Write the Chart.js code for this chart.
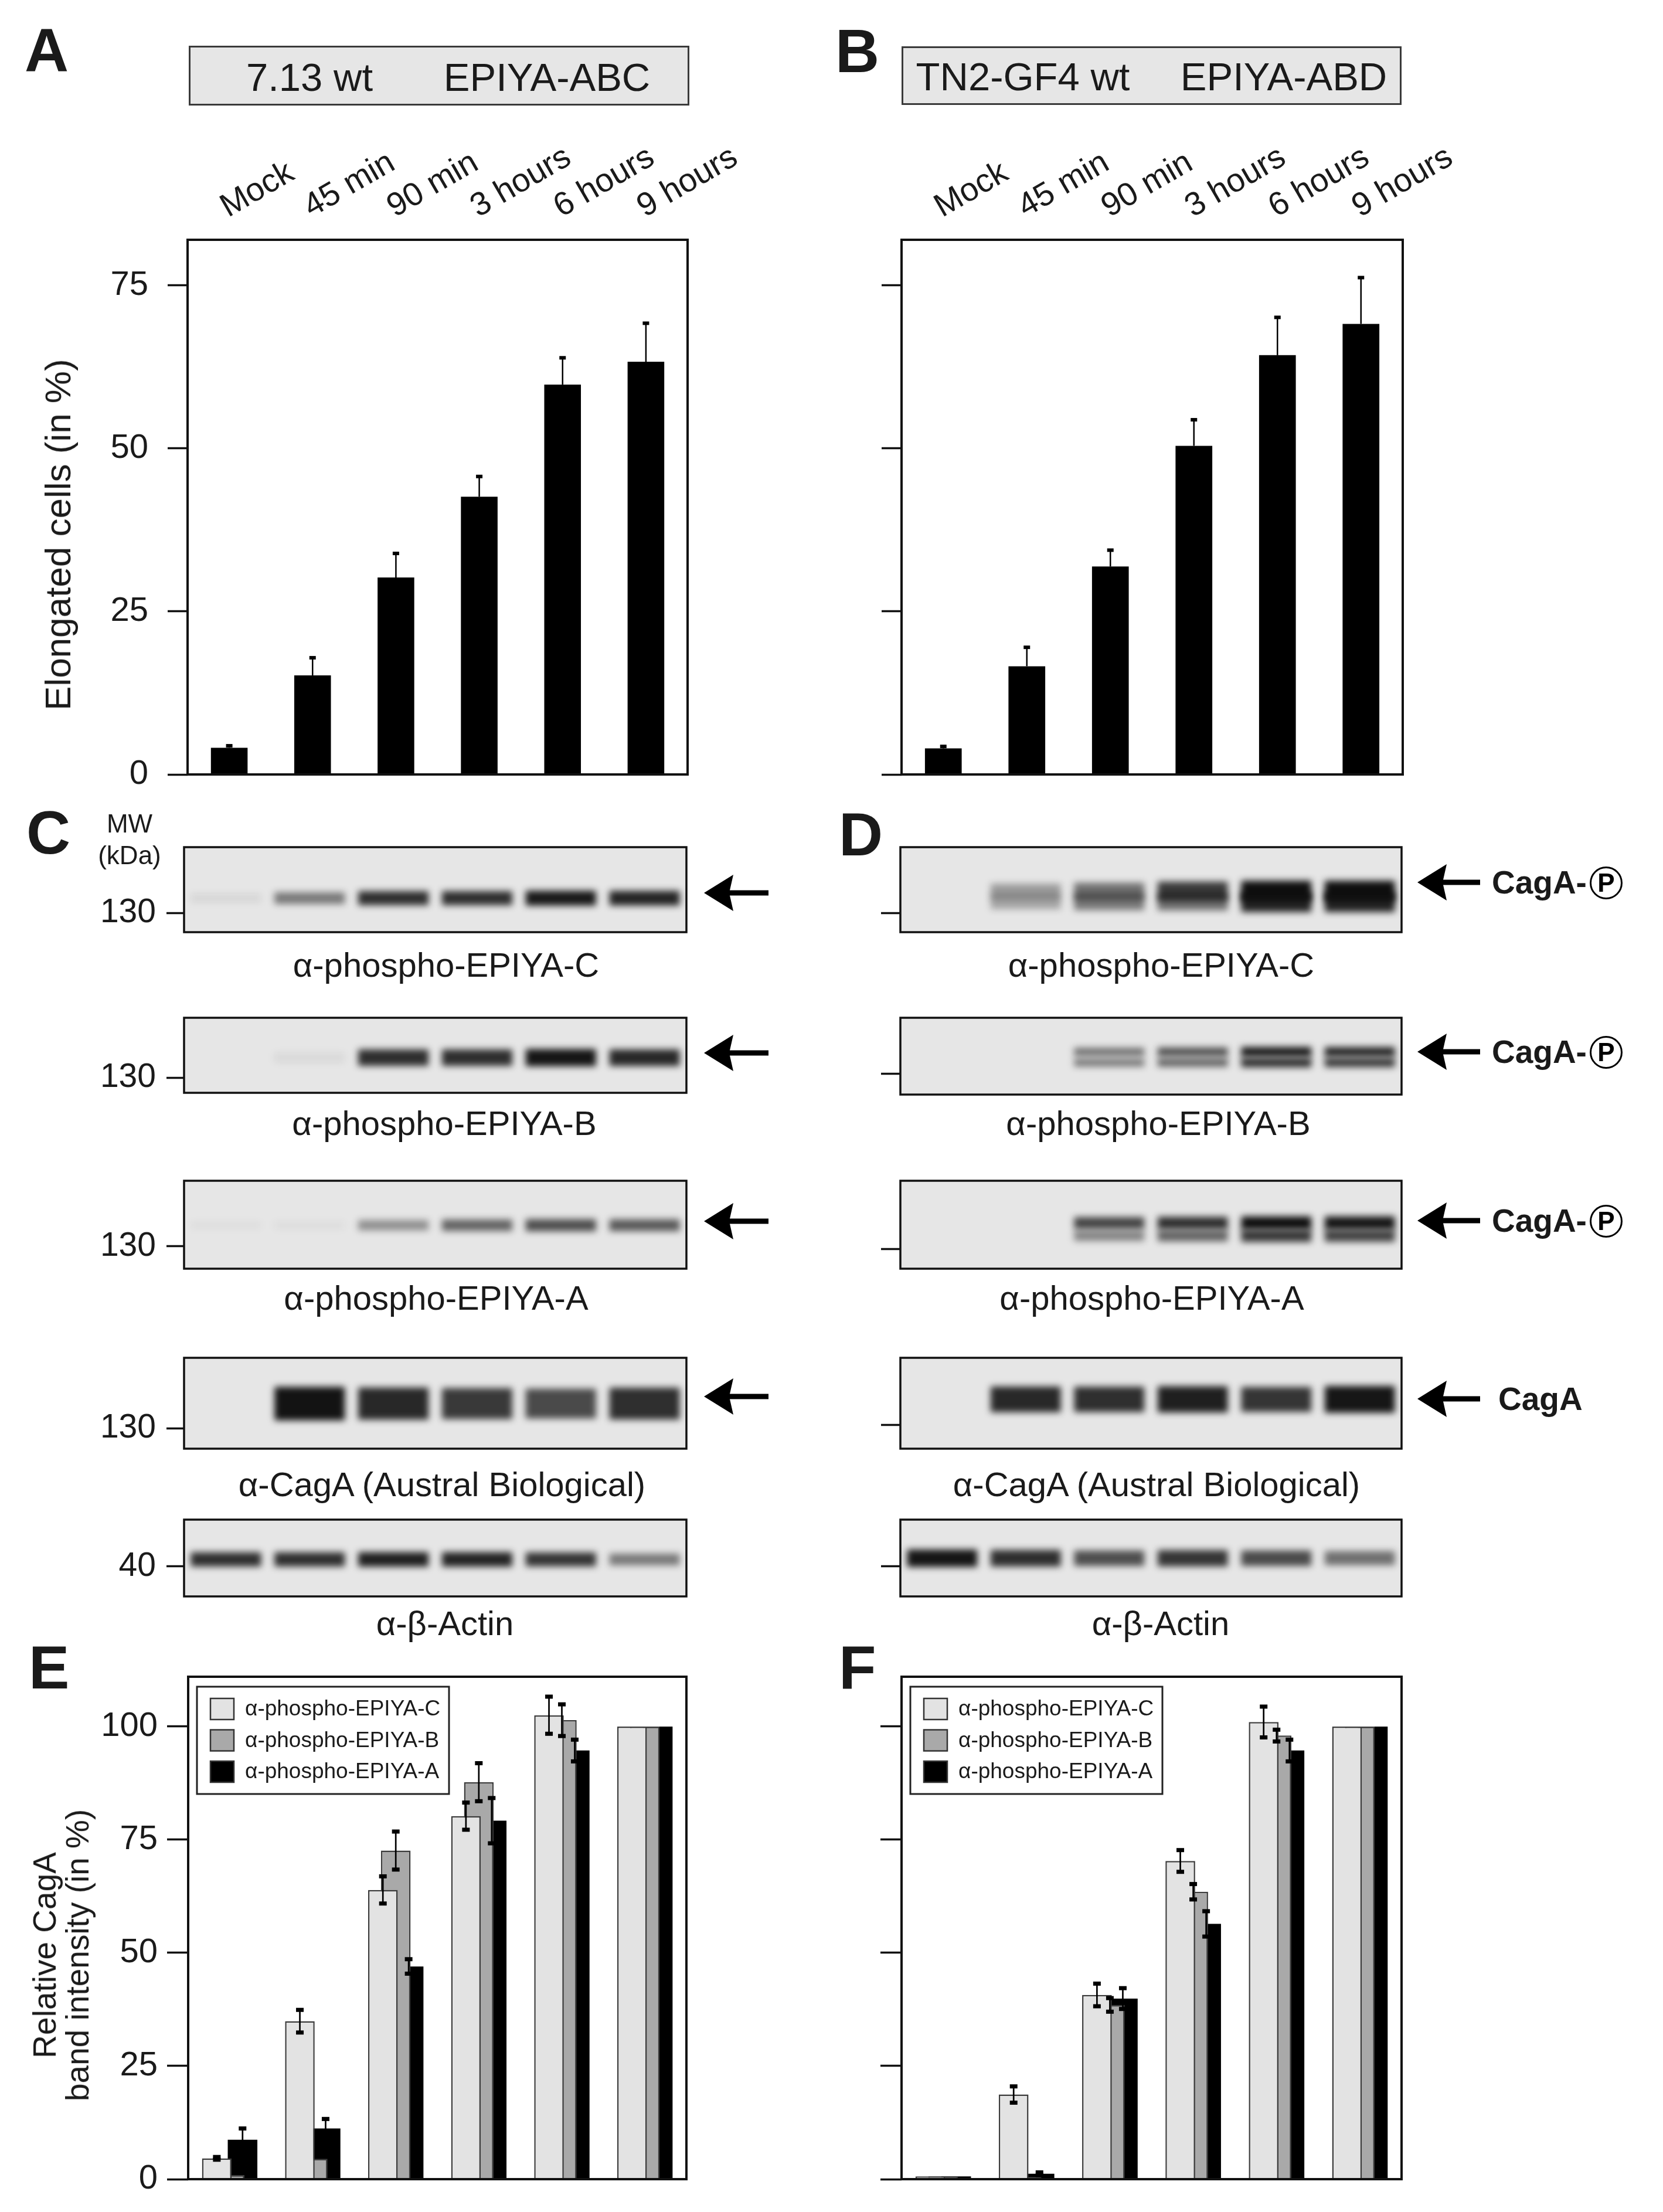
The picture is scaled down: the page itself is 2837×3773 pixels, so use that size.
<!DOCTYPE html>
<html>
<head>
<meta charset="utf-8">
<script src="https://cdn.jsdelivr.net/npm/chart.js@4.4.1/dist/chart.umd.min.js"></script>
<style>
html, body { margin: 0; padding: 0; background: #fff; }
#page { position: relative; width: 2837px; height: 3773px; overflow: hidden; background: #fff;
        font-family: 'Liberation Sans', Arial, Helvetica, sans-serif; color: #1a1a1a; }
canvas { position: absolute; }
.t { position: absolute; white-space: nowrap; }
.titlebox { position: absolute; background: #e6e6e6; border: 3px solid #3a3a3a; box-sizing: border-box; }
</style>
</head>
<body>
<div id="page"></div>
<script>
// ---- data ----
const timePoints = ['Mock', '45 min', '90 min', '3 hours', '6 hours', '9 hours'];

// A / B: elongated cells (in %), mean and upper error
const elong713 = [4.1, 15.2, 30.2, 42.6, 59.8, 63.3];
const elong713Err = [0.3, 2.7, 3.7, 3.1, 4.1, 5.9];
const elongTN2 = [4.0, 16.6, 31.9, 50.4, 64.3, 69.1];
const elongTN2Err = [0.3, 2.9, 2.5, 4.0, 5.8, 7.1];

// E / F: relative CagA band intensity (in %)
const seriesNames = ['α-phospho-EPIYA-C', 'α-phospho-EPIYA-B', 'α-phospho-EPIYA-A'];
const relE_C = [4.6, 34.9, 63.9, 80.2, 102.5, 100];
const relE_CErr = [0.3, 2.5, 3.0, 3.0, 4.1, 0];
const relE_B = [0.9, 4.5, 72.6, 87.7, 101.4, 100];
const relE_BErr = [0, 0, 4.2, 4.2, 3.5, 0];
const relE_A = [8.7, 11.2, 47.0, 79.2, 94.7, 100];
const relE_AErr = [2.5, 2.1, 1.6, 5.0, 2.4, 0];
const relF_C = [0.6, 18.7, 40.7, 70.3, 101.0, 100];
const relF_CErr = [0, 1.8, 2.5, 2.4, 3.4, 0];
const relF_B = [0.6, 0.5, 38.5, 63.5, 98.0, 100];
const relF_BErr = [0, 0, 1.5, 1.7, 1.3, 0];
const relF_A = [0.6, 1.2, 39.9, 56.4, 94.7, 100];
const relF_AErr = [0, 0.3, 2.3, 2.8, 2.4, 0];

// C / D: western blot band darkness per lane (0 = none, 1 = saturated)
const mwCagA = 140, mwCagALower = 135, mwActin = 42;
const blotC_pC = [0.07, 0.5, 0.85, 0.85, 0.95, 0.9];
const blotC_pB = [0, 0.06, 0.85, 0.85, 0.97, 0.88];
const blotC_pA = [0.03, 0.04, 0.4, 0.6, 0.7, 0.65];
const blotC_cagA = [0, 0.98, 0.88, 0.8, 0.72, 0.85];
const blotC_actin = [0.85, 0.85, 0.92, 0.9, 0.82, 0.5];
const blotD_pC = [0, 0.35, 0.55, 0.8, 1, 1];
const blotD_pCLow = [0, 0.3, 0.5, 0.55, 0.9, 0.9];
const blotD_pB = [0, 0, 0.55, 0.7, 0.95, 0.9];
const blotD_pBLow = [0, 0, 0.5, 0.6, 0.85, 0.8];
const blotD_pA = [0, 0, 0.75, 0.85, 1, 0.97];
const blotD_pALow = [0, 0, 0.45, 0.6, 0.8, 0.75];
const blotD_cagA = [0, 0.88, 0.85, 0.92, 0.82, 0.97];
const blotD_actin = [0.97, 0.85, 0.7, 0.82, 0.72, 0.55];

// ---- helpers ----
const FONT = "'Liberation Sans', Arial, Helvetica, sans-serif";
Chart.defaults.font.family = FONT;
Chart.defaults.color = '#1a1a1a';
Chart.defaults.animation = false;
Chart.defaults.responsive = false;
Chart.defaults.plugins.legend.display = false;
Chart.defaults.plugins.tooltip.enabled = false;

const page = document.getElementById('page');

function addCanvas(left, top, w, h) {
  const c = document.createElement('canvas');
  c.width = w; c.height = h;
  c.style.left = left + 'px'; c.style.top = top + 'px';
  c.style.width = w + 'px'; c.style.height = h + 'px';
  page.appendChild(c);
  return c;
}

// text placed by its baseline (line-height = font size)
function txt(s, x, baseline, size, opts = {}) {
  const d = document.createElement('div');
  d.className = 't';
  d.textContent = s;
  d.style.fontSize = size + 'px';
  d.style.lineHeight = size + 'px';
  d.style.top = (baseline - 0.8465 * size) + 'px';
  d.style.left = x + 'px';
  if (opts.center) d.style.transform = 'translateX(-50%)';
  if (opts.bold) d.style.fontWeight = 'bold';
  page.appendChild(d);
  return d;
}

function vtitle(lines, cx, cy, size, lh) {
  const d = document.createElement('div');
  d.className = 't';
  d.innerHTML = lines.join('<br>');
  d.style.fontSize = size + 'px';
  d.style.lineHeight = lh + 'px';
  d.style.textAlign = 'center';
  d.style.left = cx + 'px';
  d.style.top = cy + 'px';
  d.style.transform = 'translate(-50%, -50%) rotate(-90deg)';
  page.appendChild(d);
}

function arrow(tipX, y, len) {
  const ns = 'http://www.w3.org/2000/svg';
  const s = document.createElementNS(ns, 'svg');
  s.setAttribute('width', len); s.setAttribute('height', 70);
  s.style.position = 'absolute';
  s.style.left = tipX + 'px'; s.style.top = (y - 35) + 'px';
  s.innerHTML = '<polygon points="0,35 50,4 43,35 50,66" fill="#000"/>' +
    '<rect x="42" y="30.5" width="' + (len - 42) + '" height="9" fill="#000"/>';
  page.appendChild(s);
}

function phosphoLabel(x, y, text, circled) {
  txt(text, x, y + 20, 55, { bold: true });
  if (circled) {
    const c = document.createElement('div');
    c.textContent = 'P';
    c.style.cssText = 'position:absolute;box-sizing:border-box;width:56px;height:56px;border:3px solid #000;' +
      'border-radius:50%;text-align:center;font-weight:bold;font-size:44px;line-height:50px;color:#000;';
    c.style.left = (x + 167) + 'px';
    c.style.top = (y - 27) + 'px';
    page.appendChild(c);
  }
}

// ---- plugins ----
const framePlugin = {
  id: 'frame',
  beforeDraw(chart, args, opts) {
    if (!opts.fill) return;
    const a = chart.chartArea, ctx = chart.ctx;
    ctx.save(); ctx.fillStyle = opts.fill;
    ctx.fillRect(a.left, a.top, a.right - a.left, a.bottom - a.top);
    ctx.restore();
  },
  afterDraw(chart, args, opts) {
    const a = chart.chartArea, ctx = chart.ctx;
    ctx.save();
    ctx.strokeStyle = '#111';
    ctx.lineWidth = opts.width || 4;
    ctx.strokeRect(a.left, a.top, a.right - a.left, a.bottom - a.top);
    ctx.restore();
  }
};

const blurPlugin = {
  id: 'blur',
  beforeDatasetsDraw(chart, args, opts) { chart.ctx.save(); chart.ctx.filter = 'blur(' + (opts.px || 4) + 'px)'; },
  afterDatasetsDraw(chart) { chart.ctx.restore(); }
};

const errorBarPlugin = {
  id: 'errorBars',
  afterDatasetsDraw(chart, args, opts) {
    const ctx = chart.ctx, y = chart.scales.y;
    chart.data.datasets.forEach((ds, di) => {
      if (!ds.errors) return;
      chart.getDatasetMeta(di).data.forEach((bar, i) => {
        const e = ds.errors[i];
        if (!e) return;
        const v = ds.data[i];
        const top = y.getPixelForValue(v + e);
        const bot = opts.both ? y.getPixelForValue(v - e) : bar.y;
        ctx.save();
        ctx.strokeStyle = '#000'; ctx.fillStyle = '#000'; ctx.lineWidth = opts.lineWidth;
        ctx.beginPath(); ctx.moveTo(bar.x, bot); ctx.lineTo(bar.x, top); ctx.stroke();
        ctx.fillRect(bar.x - opts.capW / 2, top - opts.capH / 2, opts.capW, opts.capH);
        if (opts.both) ctx.fillRect(bar.x - opts.capW / 2, bot - opts.capH / 2, opts.capW, opts.capH);
        ctx.restore();
      });
    });
  }
};

const boxLegendPlugin = {
  id: 'boxLegend',
  afterDraw(chart, args, o) {
    const a = chart.chartArea, ctx = chart.ctx;
    const x0 = a.left + o.dx, y0 = a.top + o.dy;
    ctx.save();
    ctx.fillStyle = '#fff';
    ctx.fillRect(x0, y0, o.w, o.h);
    ctx.lineWidth = 3; ctx.strokeStyle = '#222';
    ctx.strokeRect(x0, y0, o.w, o.h);
    ctx.font = o.size + 'px ' + FONT;
    ctx.textBaseline = 'middle';
    chart.data.datasets.forEach((ds, i) => {
      const cy = y0 + o.first + i * o.row;
      ctx.fillStyle = ds.backgroundColor;
      ctx.fillRect(x0 + o.sx, cy - o.sh / 2, o.sw, o.sh);
      ctx.lineWidth = 2.5; ctx.strokeStyle = '#333';
      ctx.strokeRect(x0 + o.sx, cy - o.sh / 2, o.sw, o.sh);
      ctx.fillStyle = '#1a1a1a';
      ctx.fillText(ds.label, x0 + o.tx, cy + 1);
    });
    ctx.restore();
  }
};

// ---- A / B: elongation bar charts ----
function elongationChart(box, values, errs, showLabels) {
  const cv = addCanvas(box.cl, box.ct, box.cw, box.ch);
  new Chart(cv, {
    type: 'bar',
    data: {
      labels: timePoints,
      datasets: [{ data: values, errors: errs, backgroundColor: '#000', borderWidth: 0,
                   barPercentage: 0.44, categoryPercentage: 1 }]
    },
    options: {
      layout: { padding: { left: 0, top: 0, right: box.cl + box.cw - box.right, bottom: box.ct + box.ch - box.bottom } },
      plugins: {
        frame: { width: 4 },
        errorBars: { both: false, lineWidth: 2.5, capW: 11, capH: 6 }
      },
      scales: {
        x: {
          position: 'top',
          grid: { display: false, drawTicks: false },
          border: { display: false },
          ticks: { autoSkip: false, minRotation: 30, maxRotation: 30, padding: 22, labelOffset: 24,
                   font: { size: 56 }, color: '#1a1a1a' },
          afterFit: s => { s.height = box.top - box.ct; s.paddingLeft = 0; s.paddingRight = 0; }
        },
        y: {
          min: 0, max: 82,
          border: { display: false },
          grid: { drawOnChartArea: false, tickLength: 34, tickWidth: 3.5, color: '#111' },
          ticks: { stepSize: 25, includeBounds: false, display: showLabels, padding: 33,
                   font: { size: 58 }, color: '#1a1a1a' },
          afterFit: s => { s.width = box.left - box.cl; s.paddingTop = 0; s.paddingBottom = 0; }
        }
      }
    },
    plugins: [framePlugin, errorBarPlugin]
  });
}

// ---- E / F: grouped (overlapping) intensity bars ----
function intensityChart(box, c, cErr, b, bErr, a, aErr, showLabels) {
  const cv = addCanvas(box.cl, box.ct, box.cw, box.ch);
  const common = { barPercentage: 2.3, categoryPercentage: 0.465, borderColor: '#3c3c3c', borderSkipped: 'start' };
  new Chart(cv, {
    type: 'bar',
    data: {
      labels: timePoints,
      datasets: [
        Object.assign({ label: seriesNames[0], data: c, errors: cErr, backgroundColor: '#e3e3e3', borderWidth: 2.5 }, common),
        Object.assign({ label: seriesNames[1], data: b, errors: bErr, backgroundColor: '#a9a9a9', borderWidth: 2.5 }, common),
        Object.assign({ label: seriesNames[2], data: a, errors: aErr, backgroundColor: '#000000', borderWidth: 0 }, common)
      ]
    },
    options: {
      layout: { padding: { left: 0, top: box.top - box.ct, right: box.cl + box.cw - box.right, bottom: box.ct + box.ch - box.bottom } },
      plugins: {
        frame: { width: 4 },
        errorBars: { both: true, lineWidth: 2.7, capW: 13, capH: 7 },
        boxLegend: { dx: 15, dy: 17, w: 430, h: 183, sx: 23, sw: 40, sh: 36, tx: 82, first: 38, row: 53.5, size: 37 }
      },
      scales: {
        x: { display: false },
        y: {
          min: 0, max: 111,
          border: { display: false },
          grid: { drawOnChartArea: false, tickLength: 36, tickWidth: 3.5, color: '#111' },
          ticks: { stepSize: 25, includeBounds: false, display: showLabels, padding: 16,
                   font: { size: 58 }, color: '#1a1a1a' },
          afterFit: s => { s.width = box.left - box.cl; s.paddingTop = 0; s.paddingBottom = 0; }
        }
      }
    },
    plugins: [framePlugin, errorBarPlugin, boxLegendPlugin]
  });
}

// ---- C / D: blot strips ----
function blotChart(g, bands, showLabel) {
  const cv = addCanvas(g.cl, g.top - 30, g.cw, g.bottom - g.top + 60);
  new Chart(cv, {
    type: 'bar',
    data: {
      labels: timePoints,
      datasets: bands.map(b => ({
        data: b.lanes.map(v => { const h = b.span * (0.55 + 0.45 * v) / 2; return [b.mw - h, b.mw + h]; }),
        backgroundColor: b.lanes.map(v => 'rgba(14,14,14,' + v + ')'),
        borderWidth: 0, barPercentage: 0.84, categoryPercentage: 1, grouped: false
      }))
    },
    options: {
      layout: { padding: { left: 0, top: 30, right: g.cl + g.cw - g.right, bottom: 30 } },
      plugins: { frame: { width: 3.5, fill: '#e6e6e6' }, blur: { px: 6 } },
      scales: {
        x: { display: false },
        y: {
          min: g.yMin, max: g.yMax,
          border: { display: false },
          grid: { drawOnChartArea: false, tickLength: g.tl, tickWidth: 3.5, color: '#111' },
          afterBuildTicks: s => { s.ticks = [{ value: g.tick }]; },
          ticks: { display: showLabel, padding: 18, font: { size: 57 }, color: '#1a1a1a', callback: v => String(v) },
          afterFit: s => { s.width = g.left - g.cl; s.paddingTop = 0; s.paddingBottom = 0; }
        }
      }
    },
    plugins: [framePlugin, blurPlugin]
  });
}

// ---- layout ----
elongationChart({ cl: 0, ct: 200, cw: 1300, ch: 1200, left: 320, right: 1173, top: 409, bottom: 1321 },
                elong713, elong713Err, true);
elongationChart({ cl: 1400, ct: 200, cw: 1300, ch: 1200, left: 1538, right: 2393, top: 409, bottom: 1321 },
                elongTN2, elongTN2Err, false);

intensityChart({ cl: 0, ct: 2820, cw: 1300, ch: 953, left: 321, right: 1171, top: 2860, bottom: 3717 },
               relE_C, relE_CErr, relE_B, relE_BErr, relE_A, relE_AErr, true);
intensityChart({ cl: 1400, ct: 2820, cw: 1300, ch: 953, left: 1538, right: 2391, top: 2860, bottom: 3717 },
               relF_C, relF_CErr, relF_B, relF_BErr, relF_A, relF_AErr, false);

const cL = { cl: 0, cw: 1300, left: 314, right: 1171, tl: 30 };
const dL = { cl: 1400, cw: 1100, left: 1536, right: 2391, tl: 33 };
const band = (lanes, mw, span) => ({ lanes, mw, span });

blotChart(Object.assign({ top: 1445, bottom: 1590, yMin: 116.8, yMax: 174.8, tick: 130 }, cL), [band(blotC_pC, mwCagA, 10.4)], true);
blotChart(Object.assign({ top: 1736, bottom: 1864, yMin: 122.4, yMax: 160.0, tick: 130 }, cL), [band(blotC_pB, mwCagA, 8.8)], true);
blotChart(Object.assign({ top: 2014, bottom: 2164, yMin: 119.4, yMax: 161.1, tick: 130 }, cL), [band(blotC_pA, mwCagA, 6.7)], true);
blotChart(Object.assign({ top: 2316, bottom: 2471, yMin: 121.7, yMax: 158.6, tick: 130 }, cL), [band(blotC_cagA, mwCagA, 13.8)], true);
blotChart(Object.assign({ top: 2592, bottom: 2723, yMin: 31.5, yMax: 53.3, tick: 40 }, cL), [band(blotC_actin, mwActin, 4.3)], true);

blotChart(Object.assign({ top: 1445, bottom: 1590, yMin: 121.1, yMax: 160.3, tick: 130 }, dL),
          [band(blotD_pC, mwCagA, 9.7), band(blotD_pCLow, mwCagALower, 9.7)], false);
blotChart(Object.assign({ top: 1736, bottom: 1867, yMin: 120.3, yMax: 155.7, tick: 130 }, dL),
          [band(blotD_pB, mwCagA, 4.6), band(blotD_pBLow, mwCagALower, 4.6)], false);
blotChart(Object.assign({ top: 2014, bottom: 2164, yMin: 122.3, yMax: 156.4, tick: 130 }, dL),
          [band(blotD_pA, mwCagA, 5.2), band(blotD_pALow, mwCagALower, 5.2)], false);
blotChart(Object.assign({ top: 2316, bottom: 2471, yMin: 120.9, yMax: 156.1, tick: 130 }, dL), [band(blotD_cagA, mwCagA, 10.5)], false);
blotChart(Object.assign({ top: 2592, bottom: 2723, yMin: 32.7, yMax: 51.4, tick: 40 }, dL), [band(blotD_actin, mwActin, 4.3)], false);

// ---- text, boxes, arrows ----
[['A', 42, 121], ['B', 1425, 123], ['C', 45, 1456], ['D', 1431, 1459], ['E', 49, 2880], ['F', 1431, 2880]]
  .forEach(([s, x, b]) => txt(s, x, b, 104, { bold: true }));

function titleBox(x, y, w, h) {
  const d = document.createElement('div');
  d.className = 'titlebox';
  d.style.left = x + 'px'; d.style.top = y + 'px';
  d.style.width = w + 'px'; d.style.height = h + 'px';
  page.appendChild(d);
}
titleBox(322, 78, 854, 102);
txt('7.13 wt', 528, 155, 67, { center: true });
txt('EPIYA-ABC', 933, 155, 67, { center: true });
titleBox(1538, 79, 853, 100);
txt('TN2-GF4 wt', 1745, 154, 67, { center: true });
txt('EPIYA-ABD', 2190, 154, 67, { center: true });

vtitle(['Elongated cells (in %)'], 99, 912, 62, 70);
vtitle(['Relative CagA', 'band intensity (in %)'], 104, 3335, 55, 56);

txt('MW', 221, 1420, 44, { center: true });
txt('(kDa)', 221, 1474, 44, { center: true });

const captions = ['α-phospho-EPIYA-C', 'α-phospho-EPIYA-B', 'α-phospho-EPIYA-A', 'α-CagA (Austral Biological)', 'α-β-Actin'];
const captionBase = [1666, 1936, 2234, 2552, 2789];
const captionCX = [761, 758, 744, 754, 759];
const captionDX = [1981, 1976, 1965, 1973, 1980];
captions.forEach((s, i) => {
  txt(s, captionCX[i], captionBase[i], 58, { center: true });
  txt(s, captionDX[i], captionBase[i], 58, { center: true });
});

[1523, 1796, 2083, 2382].forEach(y => arrow(1201, y, 110));
[1505, 1794, 2082, 2386].forEach(y => arrow(2418, y, 107));
phosphoLabel(2545, 1505, 'CagA-', true);
phosphoLabel(2545, 1794, 'CagA-', true);
phosphoLabel(2545, 2082, 'CagA-', true);
phosphoLabel(2556, 2386, 'CagA', false);
</script>
</body>
</html>
